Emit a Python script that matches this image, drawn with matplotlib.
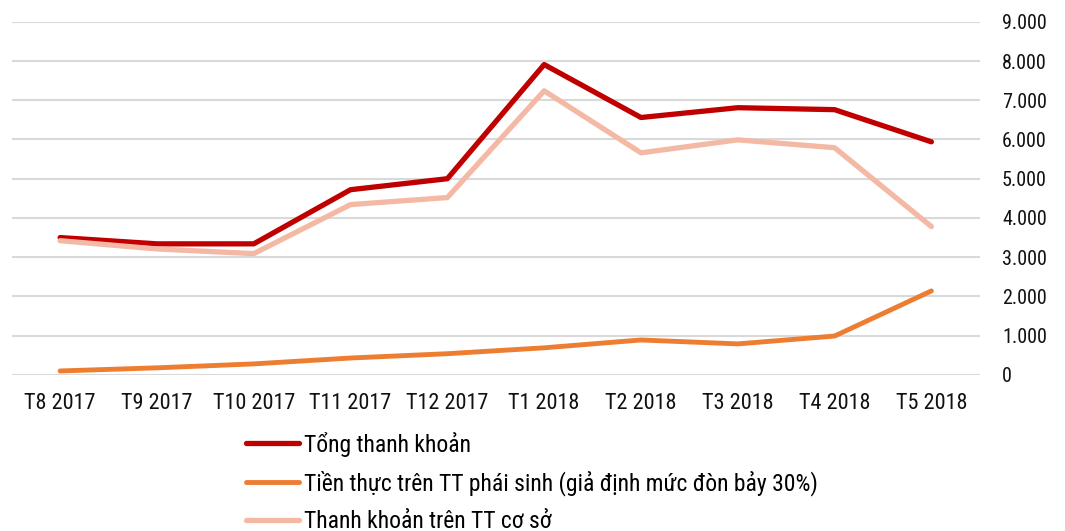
import matplotlib.pyplot as plt
from matplotlib import font_manager
from matplotlib.ticker import FuncFormatter

months = ['T8 2017', 'T9 2017', 'T10 2017', 'T11 2017', 'T12 2017',
          'T1 2018', 'T2 2018', 'T3 2018', 'T4 2018', 'T5 2018']
tong = [3500, 3340, 3340, 4720, 5000, 7910, 6560, 6810, 6760, 5940]
phai_sinh = [100, 180, 280, 430, 540, 690, 890, 790, 990, 2140]
co_so = [3420, 3210, 3090, 4340, 4520, 7240, 5660, 5990, 5790, 3780]
names = ['Tổng thanh khoản',
         'Tiền thực trên TT phái sinh (giả định mức đòn bảy 30%)',
         'Thanh khoản trên TT cơ sở']

avail = {f.name for f in font_manager.fontManager.ttflist}
narrow = [f for f in ['Liberation Sans Narrow', 'Roboto Condensed', 'Open Sans Condensed'] if f in avail]
plt.rcParams['font.family'] = narrow + ['DejaVu Sans']
plt.rcParams['font.stretch'] = 'condensed'

fig = plt.figure(figsize=(10.65, 5.31), dpi=100)
ax = fig.add_axes([0.011, 0.294, 0.909, 0.665])

x = range(len(months))
ax.plot(x, tong, color='#C00000', lw=3.8, label=names[0], solid_capstyle='round')
ax.plot(x, phai_sinh, color='#ED7D31', lw=3.5, label=names[1], solid_capstyle='round')
ax.plot(x, co_so, color='#F4B9A5', lw=3.8, label=names[2], solid_capstyle='round')

ax.set_xlim(-0.5, len(months) - 0.5)
ax.set_ylim(0, 9000)
ax.set_yticks(range(0, 9001, 1000))
ax.yaxis.set_major_formatter(FuncFormatter(lambda v, p: f'{int(v):,}'.replace(',', '.')))
ax.yaxis.tick_right()
ax.set_xticks(list(x))
ax.set_xticklabels(months)
ax.tick_params(axis='both', length=0, colors='#111111')
ax.tick_params(axis='y', pad=16, labelsize=14.5)
ax.tick_params(axis='x', pad=13, labelsize=16)
for lbl in ax.get_yticklabels():
    lbl.set_horizontalalignment('left')
ax.grid(axis='y', color='#D9D9D9', lw=1.5)
ax.set_axisbelow(True)
for s in ax.spines.values():
    s.set_visible(False)

fig.legend(loc='upper left', bbox_to_anchor=(0.222, 0.205), frameon=False,
           fontsize=17, handlelength=2.25, handletextpad=0.2,
           labelspacing=0.6, borderaxespad=0)

fig.savefig('out.png', dpi=100)
